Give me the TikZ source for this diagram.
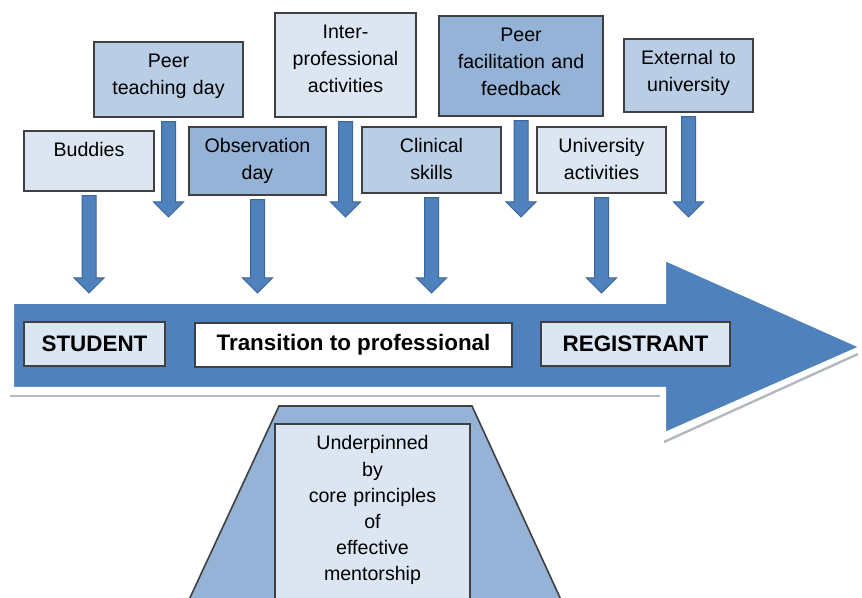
\documentclass[tikz,border=0pt]{standalone}
\usepackage{fontspec}
\setmainfont{Liberation Sans}
\usetikzlibrary{calc}

\definecolor{boxlight}{HTML}{DCE6F2}
\definecolor{boxmid}{HTML}{B9CDE5}
\definecolor{boxdark}{HTML}{95B3D7}
\definecolor{arrowfill}{HTML}{4F81BD}
\definecolor{arrowedge}{HTML}{3A6699}
\definecolor{boxline}{HTML}{404040}
\definecolor{shadowgray}{HTML}{B3B8BF}

\begin{document}
\begin{tikzpicture}[x=0.5pt,y=-0.5pt,
	topbox/.style={draw=boxline, line width=0.8pt, align=center, anchor=north,
		font={\fontsize{9.8}{13.4}\selectfont}, inner xsep=0pt, inner ysep=3pt, text height=10pt},
	labelbox/.style={draw=boxline, line width=0.8pt, font={\fontsize{11.2}{13}\selectfont\bfseries},
		minimum height=22pt, inner sep=0pt},
	downarrow/.style={draw=arrowedge, fill=arrowfill, line width=0.5pt,
		to path={($(\tikztostart)+(-7,4)$) -- ($(\tikztotarget)+(-7,-15)$) -- ($(\tikztotarget)+(-15,-15)$)
			-- (\tikztotarget) -- ($(\tikztotarget)+(15,-15)$) -- ($(\tikztotarget)+(7,-15)$)
			-- ($(\tikztostart)+(7,4)$) -- cycle}}]
	\useasboundingbox (0,0) rectangle (862,598);

	\draw[shadowgray, line width=1.2pt] (10,396) -- (660,396);
	\draw[shadowgray, line width=1.2pt] (664,442) -- (858,354);
	\draw[white, line width=1pt, fill=arrowfill] (13,303) -- (665,303) -- (665,260) -- (860,347)
		-- (665,433) -- (665,388) -- (13,388) -- cycle;

	\draw[boxline, line width=0.8pt, fill=boxdark] (279,406) -- (472,406) -- (562,602) -- (188,602) -- cycle;

	\node[labelbox, fill=boxlight, minimum width=70.5pt] (student) at (94.5,344) {STUDENT};
	\node[labelbox, fill=white, minimum width=158.5pt] (transition) at (353.5,345) {Transition to professional};
	\node[labelbox, fill=boxlight, minimum width=94.5pt] (registrant) at (635.5,344) {REGISTRANT};

	\node[topbox, fill=boxlight, text width=65pt, text depth=14pt] (buddies) at (89,130) {Buddies};
	\node[topbox, fill=boxmid, text width=74.5pt, text depth=21.5pt] (peerteach) at (168.5,41) {Peer\\teaching day};
	\node[topbox, fill=boxdark, text width=68.5pt, text depth=18pt] (observation) at (257.5,126) {Observation\\day};
	\node[topbox, fill=boxlight, text width=70.5pt, text depth=36pt] (interprof) at (345.5,12) {Inter-\\professional\\activities};
	\node[topbox, fill=boxmid, text width=69.5pt, text depth=17pt] (clinical) at (431.5,126) {Clinical\\skills};
	\node[topbox, fill=boxdark, text width=82pt, text depth=34pt] (peerfacil) at (521,15) {Peer\\facilitation and\\feedback};
	\node[topbox, fill=boxlight, text width=64.5pt, text depth=17pt] (university) at (601.5,126) {University\\activities};
	\node[topbox, fill=boxmid, text width=64.5pt, text depth=20.5pt] (external) at (688.5,38) {External to\\university};

	\node[topbox, fill=boxlight, text width=97.5pt, text depth=73.5pt, font={\fontsize{9.8}{13.1}\selectfont}] (mentorship) at (372.5,423)
		{Underpinned\\by\\core principles\\of\\effective\\mentorship};

	\coordinate (longtips) at (0,293);
	\coordinate (shorttips) at (0,217);

	\draw[downarrow] (buddies.south) to (buddies.south |- longtips);
	\draw[downarrow] (observation.south) to (observation.south |- longtips);
	\draw[downarrow] (clinical.south) to (clinical.south |- longtips);
	\draw[downarrow] (university.south) to (university.south |- longtips);
	\draw[downarrow] (peerteach.south) to (peerteach.south |- shorttips);
	\draw[downarrow] (interprof.south) to (interprof.south |- shorttips);
	\draw[downarrow] (peerfacil.south) to (peerfacil.south |- shorttips);
	\draw[downarrow] (external.south) to (external.south |- shorttips);
\end{tikzpicture}
\end{document}
